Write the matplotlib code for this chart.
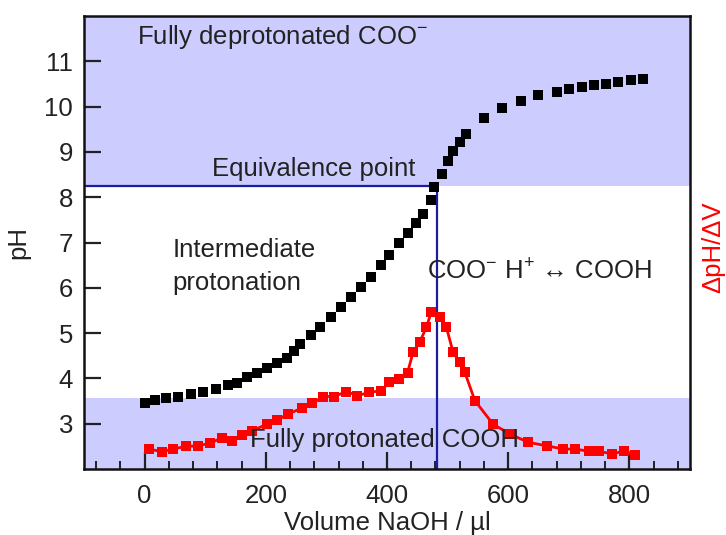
import matplotlib
matplotlib.use("Agg")
import matplotlib.pyplot as plt
from matplotlib.ticker import MultipleLocator

plt.rcParams['font.family'] = ['Liberation Sans', 'DejaVu Sans']

# pH titration curve (black)
vol_ph = [0, 17, 36, 55, 77, 97, 118, 138, 152, 169, 185, 202, 219, 235, 246,
          257, 274, 290, 307, 324, 340, 357, 373, 390, 404, 420, 434, 448, 459,
          473, 478, 490, 500, 509, 520, 531, 560, 590, 621, 650, 680, 700, 721,
          741, 761, 782, 802, 822]
ph = [3.46, 3.52, 3.56, 3.60, 3.66, 3.71, 3.77, 3.86, 3.90, 4.02, 4.12, 4.22,
      4.33, 4.45, 4.60, 4.76, 4.95, 5.13, 5.35, 5.57, 5.79, 6.02, 6.24, 6.50,
      6.72, 6.98, 7.20, 7.42, 7.64, 7.93, 8.23, 8.52, 8.80, 9.02, 9.22, 9.39,
      9.75, 9.98, 10.13, 10.26, 10.33, 10.38, 10.43, 10.48, 10.51, 10.55,
      10.59, 10.61]

# derivative dpH/dV (red), plotted in the same display units
vol_d = [8, 28, 47, 68, 88, 108, 128, 144, 160, 177, 202, 219, 236, 259, 277,
         295, 313, 333, 351, 371, 390, 404, 420, 434, 443, 454, 465, 473, 487,
         498, 509, 520, 528, 545, 575, 603, 633, 664, 691, 711, 733, 750, 772,
         791, 810]
dph = [2.44, 2.38, 2.44, 2.50, 2.51, 2.57, 2.69, 2.61, 2.75, 2.84, 2.99, 3.08,
       3.21, 3.34, 3.45, 3.60, 3.60, 3.71, 3.62, 3.69, 3.73, 3.91, 3.99, 4.13,
       4.58, 4.80, 5.13, 5.46, 5.35, 5.13, 4.58, 4.36, 4.15, 3.51, 2.99, 2.77,
       2.59, 2.51, 2.44, 2.44, 2.39, 2.39, 2.33, 2.40, 2.31]

equiv_vol = 483
equiv_ph = 8.25
upper_band = (8.25, 12)
lower_band = (2, 3.56)

xticks = [0, 200, 400, 600, 800]
yticks = [3, 4, 5, 6, 7, 8, 9, 10, 11]

band_color = '#ccccff'
navy = '#1c1c9c'

fig = plt.figure(figsize=(7.26, 5.35), dpi=100)
ax = fig.add_axes([0.1157, 0.1234, 0.8347, 0.8466])
ax.set_xlim(-100, 900)
ax.set_ylim(2, 12)

ax.axhspan(upper_band[0], upper_band[1], color=band_color, lw=0, zorder=0)
ax.axhspan(lower_band[0], lower_band[1], color=band_color, lw=0, zorder=0)

ax.plot([-100, equiv_vol], [equiv_ph, equiv_ph], color=navy, lw=1.6, zorder=2)
ax.plot([equiv_vol, equiv_vol], [2, equiv_ph], color=navy, lw=1.6, zorder=2)

ax.plot(vol_d, dph, color='#ff0000', lw=2.0, marker='s', markersize=6.5,
        markeredgewidth=0, zorder=3)
ax.plot(vol_ph, ph, color='black', lw=0, marker='s', markersize=7.2,
        markeredgewidth=0, zorder=4)

fs = 18.5
tc = '#222222'
ax.text(-12, 11.54, 'Fully deprotonated COO$^{\\mathregular{-}}$', fontsize=fs,
        va='center', ha='left', color=tc, zorder=5)
ax.text(111, 8.62, 'Equivalence point', fontsize=fs, va='center', ha='left',
        color=tc, zorder=5)
ax.text(46, 6.83, 'Intermediate', fontsize=fs, va='center', ha='left',
        color=tc, zorder=5)
ax.text(46, 6.10, 'protonation', fontsize=fs, va='center', ha='left',
        color=tc, zorder=5)
ax.text(466, 6.38, 'COO$^{\\mathregular{-}}$ H$^{\\mathregular{+}}$ \u2194 COOH',
        fontsize=fs, va='center', ha='left', color=tc, zorder=5)
ax.text(174, 2.64, 'Fully protonated COOH', fontsize=fs, va='center',
        ha='left', color=tc, zorder=5)

ax.set_xticks(xticks)
ax.set_yticks(yticks)
ax.xaxis.set_minor_locator(MultipleLocator(40))
ax.tick_params(axis='both', which='major', direction='in', length=12,
               width=1.6, labelsize=fs, colors=tc, pad=8)
ax.tick_params(axis='x', which='minor', direction='in', length=6, width=1.4,
               colors=tc)
ax.tick_params(axis='x', which='major', pad=11)
ax.tick_params(top=False, right=False, which='both')

for sp in ax.spines.values():
    sp.set_linewidth(1.8)
    sp.set_color('#111111')

ax.set_xlabel('Volume NaOH / \u00b5l', fontsize=fs, color=tc, labelpad=2)
ax.set_ylabel('pH', fontsize=fs, color=tc, labelpad=10)

fig.text(0.982, 0.538, '\u0394pH/\u0394V', rotation=90, fontsize=fs,
         color='#ff0000', ha='center', va='center')

fig.savefig('out.png', dpi=100)
